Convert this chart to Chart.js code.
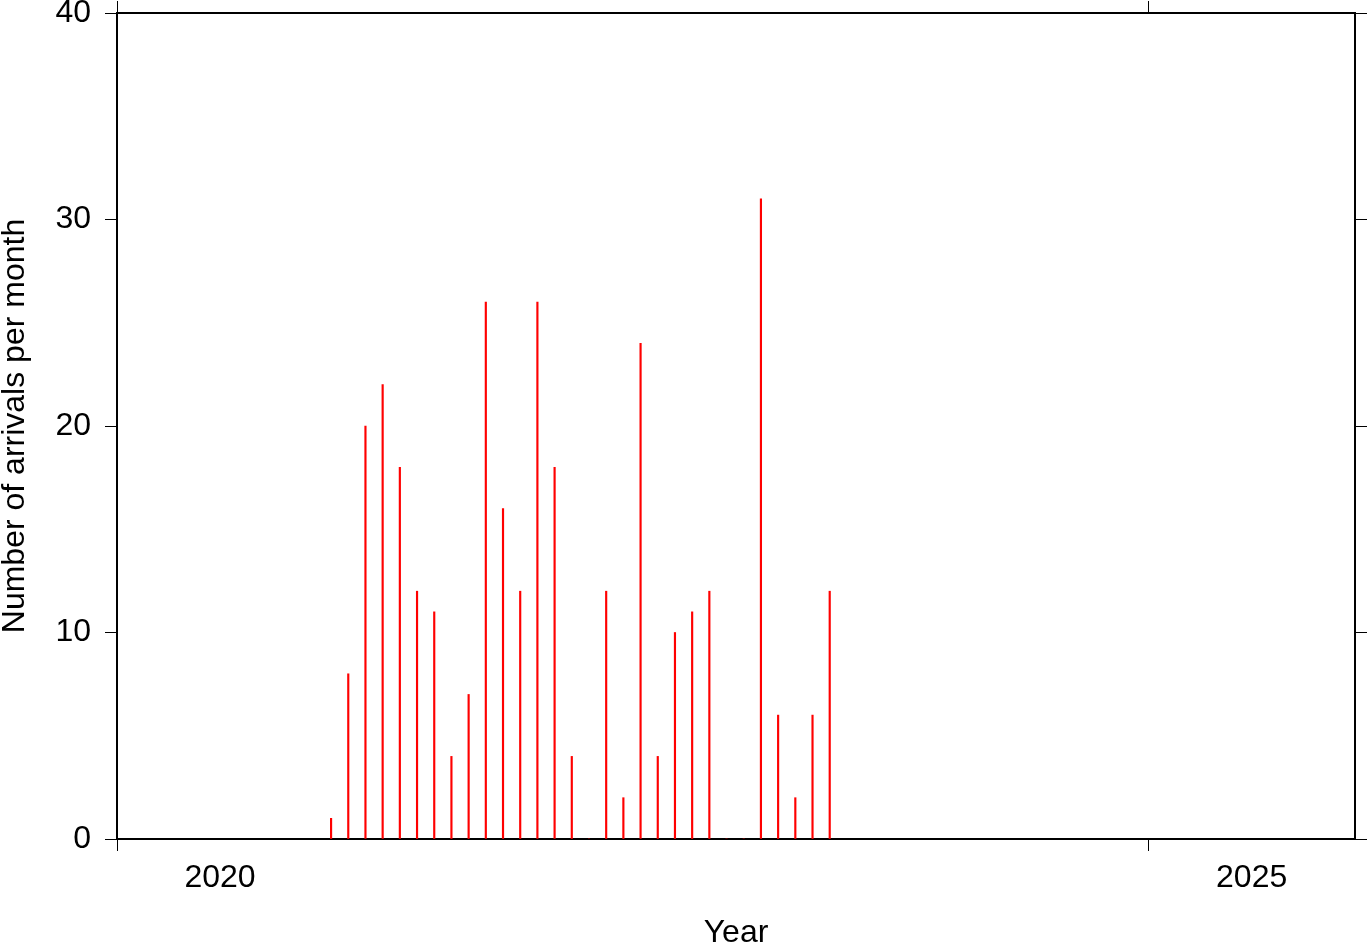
<!DOCTYPE html>
<html>
<head>
<meta charset="utf-8">
<script src="https://cdn.jsdelivr.net/npm/chart.js@4/dist/chart.umd.min.js"></script>
<style>
  html, body { margin: 0; padding: 0; background: #fff; }
  #wrap { width: 1369px; height: 942px; }
</style>
</head>
<body>
<div id="wrap"><canvas id="arrivalChart" width="1369" height="942"></canvas></div>
<script>
// monthly arrival counts
const months = ['2021-01', '2021-02', '2021-03', '2021-04', '2021-05', '2021-06',
                '2021-07', '2021-08', '2021-09', '2021-10', '2021-11', '2021-12',
                '2022-01', '2022-02', '2022-03', '2022-04', '2022-05', '2022-06',
                '2022-07', '2022-08', '2022-09', '2022-10', '2022-11', '2022-12',
                '2023-01', '2023-02', '2023-03', '2023-04', '2023-05', '2023-06'];
const counts = [1, 8, 20, 22, 18, 12, 11, 4, 7, 26, 16, 12,
                26, 18, 4, 0, 12, 2, 24, 4, 10, 11, 12, 0,
                0, 31, 6, 2, 6, 12];
const yearTicks = [2020, 2025];
const countTicks = [0, 10, 20, 30, 40];

// month string -> decimal year, placed mid-month
function toYear(m) {
    const [y, mo] = m.split('-').map(Number);
    return y + (mo - 1 + 0.45) / 12;
}

const font = { family: '"Liberation Sans", Arial, sans-serif', size: 32 };

// force fixed axis sizes so the plot box lands where the original has it
function fixSize(prop, px) {
    return function (scale) {
        scale[prop] = px;
        scale.paddingTop = 0;
        scale.paddingBottom = 0;
        scale.paddingLeft = 0;
        scale.paddingRight = 0;
    };
}

const frame = {
    border: { display: true, color: '#000', width: 2 },
    grid: { drawOnChartArea: false, drawTicks: true, tickLength: 12, color: '#000', lineWidth: 1, offset: false }
};

new Chart(document.getElementById('arrivalChart'), {
    type: 'bar',
    data: {
        datasets: [{
            data: months.map((m, i) => ({ x: toYear(m), y: counts[i] })),
            backgroundColor: '#ff0000',
            borderWidth: 0,
            barThickness: 1.5,
            grouped: false
        }]
    },
    options: {
        responsive: false,
        animation: false,
        layout: { padding: 0 },
        plugins: { legend: { display: false }, tooltip: { enabled: false } },
        scales: {
            x: {
                type: 'linear', position: 'bottom', min: 2020, max: 2026, offset: false,
                ...frame,
                afterBuildTicks: s => { s.ticks = yearTicks.map(v => ({ value: v })); },
                afterFit: fixSize('height', 103),
                ticks: { font, color: '#000', padding: 8, labelOffset: 103, maxRotation: 0,
                         autoSkip: false, callback: v => String(v) },
                title: { display: true, text: 'Year', font, color: '#000', padding: { top: 0, bottom: -10 } }
            },
            x2: {
                type: 'linear', position: 'top', min: 2020, max: 2026, offset: false,
                ...frame,
                afterBuildTicks: s => { s.ticks = yearTicks.map(v => ({ value: v })); },
                afterFit: fixSize('height', 13),
                ticks: { display: false }
            },
            y: {
                type: 'linear', position: 'left', min: 0, max: 40,
                ...frame,
                afterBuildTicks: s => { s.ticks = countTicks.map(v => ({ value: v })); },
                afterFit: fixSize('width', 117),
                ticks: { font, color: '#000', padding: 14 },
                title: { display: true, text: 'Number of arrivals per month', font, color: '#000', padding: { top: -4, bottom: 0 } }
            },
            y2: {
                type: 'linear', position: 'right', min: 0, max: 40,
                ...frame,
                afterBuildTicks: s => { s.ticks = countTicks.map(v => ({ value: v })); },
                afterFit: fixSize('width', 14),
                ticks: { display: false }
            }
        }
    }
});
</script>
</body>
</html>
